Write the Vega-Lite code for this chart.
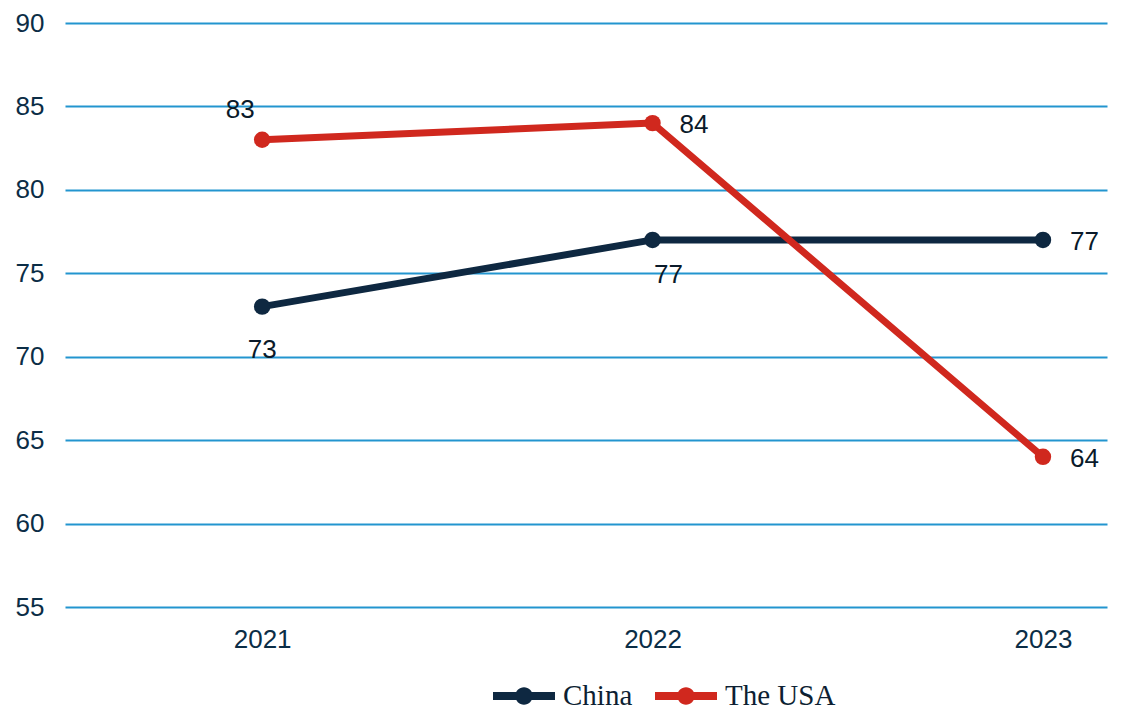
{
  "$schema": "https://vega.github.io/schema/vega-lite/v6.json",
  "width": 1042,
  "height": 584,
  "autosize": "none",
  "padding": {"left": 65, "top": 23, "right": 17, "bottom": 108},
  "background": "white",
  "config": {"view": {"stroke": null}},
  "data": {
    "values": [
      {"country": "China", "year": 2021, "value": 73},
      {"country": "China", "year": 2022, "value": 77},
      {"country": "China", "year": 2023, "value": 77},
      {"country": "The USA", "year": 2021, "value": 83},
      {"country": "The USA", "year": 2022, "value": 84},
      {"country": "The USA", "year": 2023, "value": 64}
    ]
  },
  "encoding": {
    "x": {
      "field": "year",
      "type": "quantitative",
      "scale": {"domain": [2020.495, 2023.164], "nice": false, "zero": false},
      "axis": {
        "title": null,
        "values": [2021, 2022, 2023],
        "format": "d",
        "domain": false,
        "ticks": false,
        "grid": false,
        "labelFont": "Liberation Sans",
        "labelFontSize": 26,
        "labelColor": "#0b2d46",
        "labelPadding": 19
      }
    },
    "y": {
      "field": "value",
      "type": "quantitative",
      "scale": {"domain": [55, 90], "nice": false, "zero": false},
      "axis": {
        "title": null,
        "values": [55, 60, 65, 70, 75, 80, 85, 90],
        "domain": false,
        "ticks": false,
        "gridColor": "#2395cf",
        "gridWidth": 2,
        "labelFont": "Liberation Sans",
        "labelFontSize": 26,
        "labelColor": "#0b2d46",
        "labelPadding": 21
      }
    },
    "color": {
      "field": "country",
      "type": "nominal",
      "scale": {"domain": ["China", "The USA"], "range": ["#0e2841", "#d0281e"]},
      "legend": {
        "title": null,
        "orient": "none",
        "direction": "horizontal",
        "legendX": 428,
        "legendY": 642,
        "symbolType": "M-1,-0.13H1V0.13H-1Z M-0.28,0A0.28,0.28 0 1,1 0.28,0A0.28,0.28 0 1,1 -0.28,0Z",
        "symbolSize": 3844,
        "symbolStrokeWidth": 0,
        "labelFont": "Liberation Serif",
        "labelFontSize": 29,
        "labelColor": "#0d1f33",
        "labelOffset": 8,
        "columnPadding": 22,
        "encode": {
          "symbols": {"update": {"fill": {"scale": "color", "field": "value"}, "opacity": {"value": 1}}}
        }
      }
    }
  },
  "layer": [
    {
      "mark": {"type": "line", "strokeWidth": 7, "strokeCap": "round", "strokeJoin": "round"}
    },
    {
      "mark": {"type": "point", "filled": true, "size": 270, "opacity": 1}
    },
    {
      "transform": [{"filter": "datum.year == 2023 || (datum.country == 'The USA' && datum.year == 2022)"}],
      "mark": {"type": "text", "align": "left", "baseline": "middle", "dx": 27, "dy": 2, "font": "Liberation Sans", "fontSize": 26},
      "encoding": {"text": {"field": "value", "type": "quantitative"}, "color": {"value": "#0a1a2a"}}
    },
    {
      "transform": [{"filter": "datum.country == 'China' && datum.year == 2021"}],
      "mark": {"type": "text", "align": "center", "baseline": "middle", "dx": 0, "dy": 43, "font": "Liberation Sans", "fontSize": 26},
      "encoding": {"text": {"field": "value", "type": "quantitative"}, "color": {"value": "#0a1a2a"}}
    },
    {
      "transform": [{"filter": "datum.country == 'China' && datum.year == 2022"}],
      "mark": {"type": "text", "align": "center", "baseline": "middle", "dx": 16, "dy": 35, "font": "Liberation Sans", "fontSize": 26},
      "encoding": {"text": {"field": "value", "type": "quantitative"}, "color": {"value": "#0a1a2a"}}
    },
    {
      "transform": [{"filter": "datum.country == 'The USA' && datum.year == 2021"}],
      "mark": {"type": "text", "align": "center", "baseline": "middle", "dx": -22, "dy": -30, "font": "Liberation Sans", "fontSize": 26},
      "encoding": {"text": {"field": "value", "type": "quantitative"}, "color": {"value": "#0a1a2a"}}
    }
  ]
}
